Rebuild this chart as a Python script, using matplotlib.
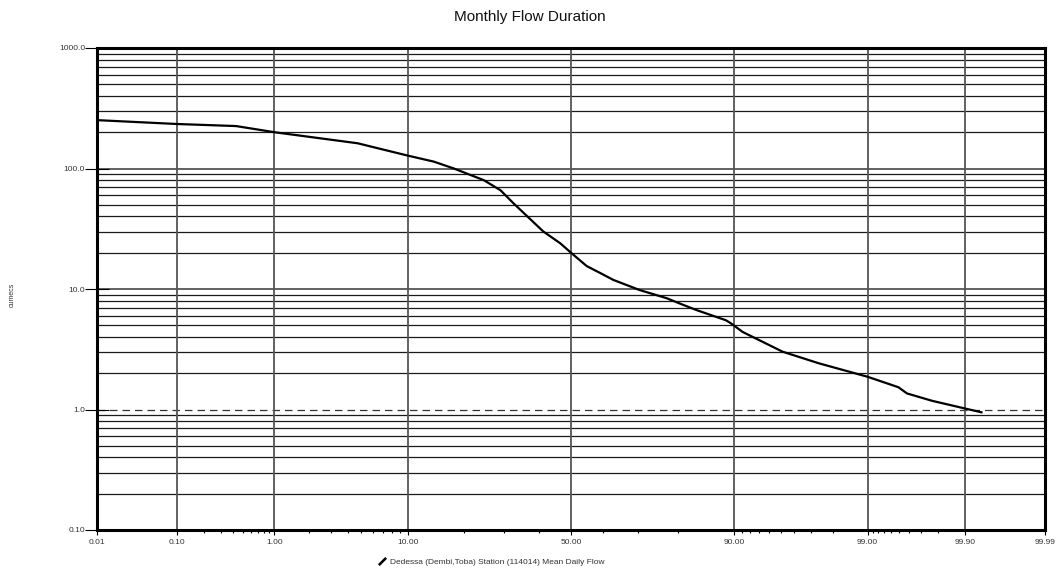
import numpy as np
import matplotlib
matplotlib.use("Agg")
import matplotlib.pyplot as plt
from matplotlib.lines import Line2D
from statistics import NormalDist

plt.rcParams['font.family'] = ['Liberation Sans', 'DejaVu Sans']

# Flow duration curve: percent of time exceeded vs discharge (cumecs)
exceedance_pct = [0.01, 0.1, 0.43, 1.0, 4.7, 10.0, 14.1, 17.9, 24.7, 29.0, 32.6,
                  41.4, 46.6, 50.0, 54.9, 59.0, 63.0, 70.5, 77.3, 81.0, 83.7,
                  88.8, 89.5, 91.1, 95.15, 97.4, 99.0, 99.49, 99.58, 99.77,
                  99.9, 99.936]
flow_cumecs = [252, 234, 225, 200, 162, 128, 114, 100, 80, 66, 51.4,
               30, 24, 20, 15.5, 13.6, 11.9, 9.8, 8.4, 7.4, 6.7,
               5.5, 5.2, 4.4, 3.02, 2.42, 1.87, 1.53, 1.36, 1.18,
               1.02, 0.948]

series_name = "Dedessa (Dembi,Toba) Station (114014) Mean Daily Flow"

x_major = [0.01, 0.1, 1.0, 10.0, 50.0, 90.0, 99.0, 99.9, 99.99]
x_major_labels = ["0.01", "0.10", "1.00", "10.00", "50.00", "90.00",
                  "99.00", "99.90", "99.99"]
x_minor = ([0.2, 0.3, 0.4, 0.5, 0.6, 0.7, 0.8, 0.9] +
           [2, 3, 4, 5, 6, 7, 8, 9] + [20, 30, 40] + [60, 70, 80] +
           [91, 92, 93, 94, 95, 96, 97, 98] +
           [99.1, 99.2, 99.3, 99.4, 99.5, 99.6, 99.7, 99.8])
y_major = [0.1, 1.0, 10.0, 100.0, 1000.0]
y_major_labels = ["0.10", "1.0", "10.0", "100.0", "1000.0"]
y_minor = [m * d for d in (0.1, 1, 10, 100) for m in range(2, 10)]

_nd = NormalDist()
_ppf = np.vectorize(_nd.inv_cdf, otypes=[float])
_cdf = np.vectorize(_nd.cdf, otypes=[float])


def prob_forward(p):
    p = np.asarray(p, dtype=float)
    q = np.clip(p / 100.0, 1e-9, 1 - 1e-9)
    return _ppf(q)


def prob_inverse(z):
    z = np.asarray(z, dtype=float)
    return _cdf(z) * 100.0


W, H = 1059, 569
fig = plt.figure(figsize=(W / 100, H / 100), dpi=100)
ax = fig.add_axes([97 / W, 1 - 530 / H, (1045 - 97) / W, (530 - 48) / H])

ax.set_xscale('function', functions=(prob_forward, prob_inverse))
ax.set_yscale('log')
ax.set_xlim(0.01, 99.99)
ax.set_ylim(0.1, 1000)

# horizontal grid at every log subdivision
for v in y_minor:
    ax.axhline(v, color='#1a1a1a', lw=0.9, zorder=1)
for v in (10.0, 100.0):
    ax.axhline(v, color='#555555', lw=1.3, zorder=1)
ax.axhline(1.0, color='#333333', lw=0.9, ls=(0, (6, 4)), zorder=1)

# vertical grid at labelled probabilities
for v in x_major[1:-1]:
    ax.axvline(v, color='#555555', lw=1.3, zorder=1)

ax.plot(exceedance_pct, flow_cumecs, color='black', lw=1.6, zorder=3,
        label=series_name)

ax.set_xticks(x_major, x_major_labels)
ax.set_xticks(x_minor, minor=True)
ax.set_yticks(y_major, y_major_labels)
ax.set_yticks([], minor=True)

ax.tick_params(axis='x', which='major', direction='out', length=3.5,
               width=0.8, labelsize=6, pad=3)
ax.tick_params(axis='x', which='minor', direction='out', length=2.5,
               width=0.8)
ax.tick_params(axis='y', which='major', direction='inout', length=17,
               width=0.8, labelsize=6, pad=0)
for lab in ax.get_xticklabels() + ax.get_yticklabels():
    lab.set_color('#333333')

for side in ('left', 'bottom', 'top', 'right'):
    ax.spines[side].set_linewidth(2.2)
    ax.spines[side].set_color('black')
    ax.spines[side].set_zorder(4)

fig.text(0.5, 1 - 17 / H, "Monthly Flow Duration", ha='center', va='center',
         fontsize=11, color='#111111')
fig.text(12 / W, 1 - 295 / H, "cumecs", rotation=90, ha='center',
         va='center', fontsize=5, color='#333333')

handle = Line2D([], [], color='black', ls='none', marker=(2, 2, -45),
                markersize=7, markeredgewidth=1.6)
fig.legend([handle], [series_name], loc='center',
           bbox_to_anchor=(491 / W, 1 - 562 / H), frameon=False,
           fontsize=6, handlelength=1.0, handletextpad=0.5,
           borderpad=0, labelcolor='#333333')

fig.savefig("out.png", dpi=100)
